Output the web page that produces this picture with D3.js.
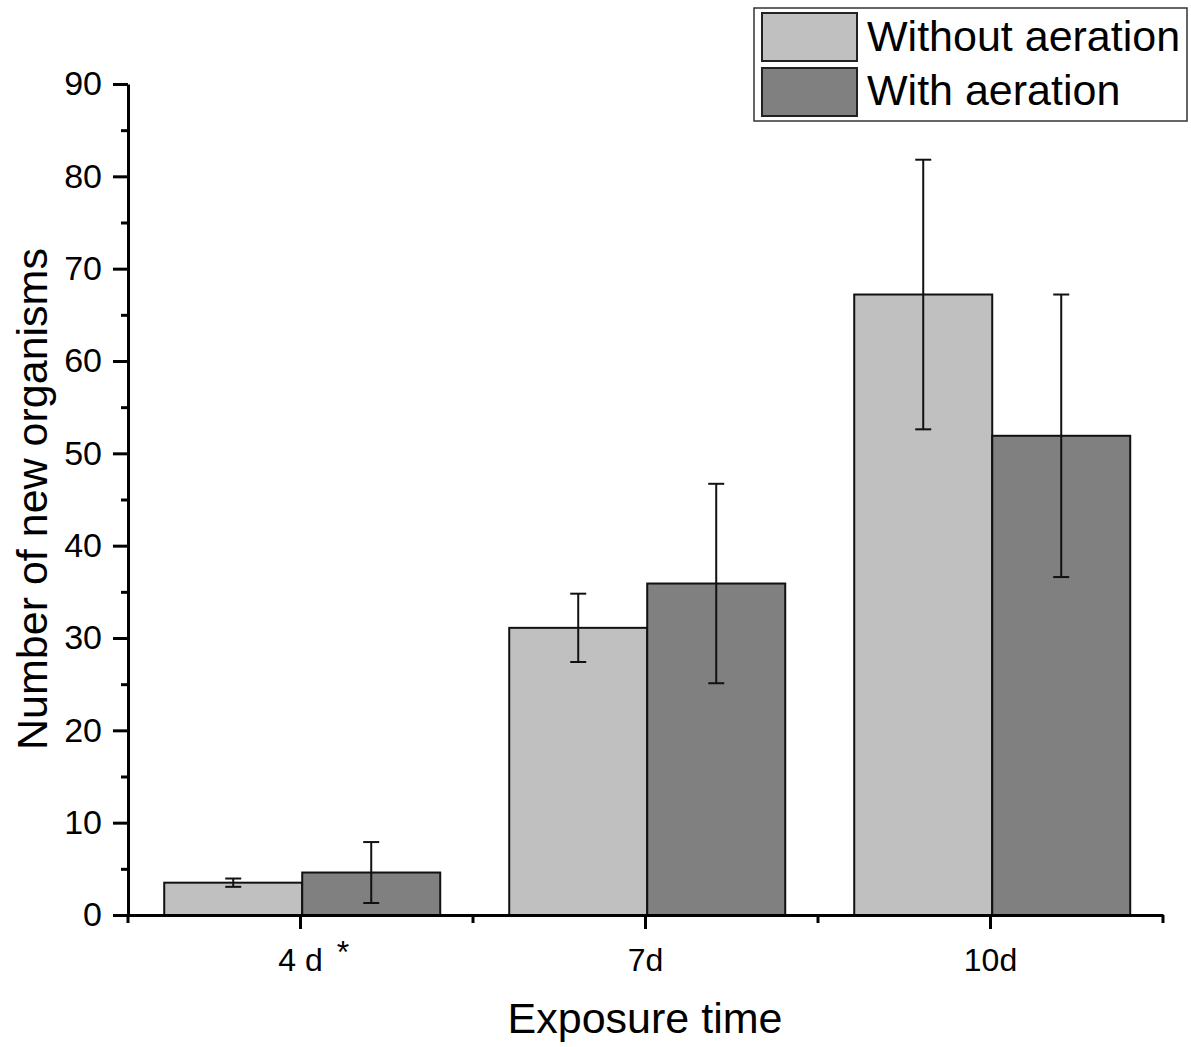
<!DOCTYPE html>
<html>
<head>
<meta charset="utf-8">
<script src="https://cdn.jsdelivr.net/npm/d3@7"></script>
<style>
  html, body { margin: 0; padding: 0; background: #fff; }
  text { font-family: "Liberation Sans", Arial, sans-serif; fill: #000; }
</style>
</head>
<body>
<svg id="chart" width="1191" height="1047"></svg>
<script>
// ---- data ----
const categories = ["4 d", "7d", "10d"];
const categoryMarks = ["*", "", ""];
const seriesNames = ["Without aeration", "With aeration"];
const withoutAeration = [3.5, 31.1, 67.2];
const withoutAerationErr = [0.45, 3.7, 14.6];
const withAeration = [4.6, 35.9, 51.9];
const withAerationErr = [3.3, 10.8, 15.3];
const seriesColors = ["#c0c0c0", "#808080"];
const yTicks = [0, 10, 20, 30, 40, 50, 60, 70, 80, 90];
const yMinorTicks = [5, 15, 25, 35, 45, 55, 65, 75, 85];

const series = [
  { name: seriesNames[0], values: withoutAeration, errs: withoutAerationErr, color: seriesColors[0] },
  { name: seriesNames[1], values: withAeration, errs: withAerationErr, color: seriesColors[1] }
];

const svg = d3.select("#chart");
const X0 = 128, X1 = 1163, Y0 = 915, Y1 = 84;

const x = d3.scaleBand().domain(categories).range([X0, X1]).padding(0);
const xs = d3.scaleBand().domain(seriesNames).range([0.105 * x.bandwidth(), 0.905 * x.bandwidth()]).padding(0);
const y = d3.scaleLinear().domain([0, 90]).range([Y0, Y1]);

// bars
const groups = svg.append("g").selectAll("g").data(categories).join("g")
  .attr("transform", d => `translate(${x(d)},0)`);

series.forEach((s) => {
  groups.append("rect")
    .attr("x", (d) => xs(s.name))
    .attr("y", (d, i) => y(s.values[i]))
    .attr("width", xs.bandwidth())
    .attr("height", (d, i) => y(0) - y(s.values[i]))
    .attr("fill", s.color)
    .attr("stroke", "#111")
    .attr("stroke-width", 2);
});

// error bars
series.forEach((s) => {
  const cx = (i) => xs(s.name) + xs.bandwidth() / 2;
  const eb = groups.append("g").attr("stroke", "#111").attr("stroke-width", 2);
  eb.append("line")
    .attr("x1", (d, i) => cx(i)).attr("x2", (d, i) => cx(i))
    .attr("y1", (d, i) => y(s.values[i] + s.errs[i]))
    .attr("y2", (d, i) => y(s.values[i] - s.errs[i]));
  eb.append("line")
    .attr("x1", (d, i) => cx(i) - 8).attr("x2", (d, i) => cx(i) + 8)
    .attr("y1", (d, i) => y(s.values[i] + s.errs[i]))
    .attr("y2", (d, i) => y(s.values[i] + s.errs[i]));
  eb.append("line")
    .attr("x1", (d, i) => cx(i) - 8).attr("x2", (d, i) => cx(i) + 8)
    .attr("y1", (d, i) => y(s.values[i] - s.errs[i]))
    .attr("y2", (d, i) => y(s.values[i] - s.errs[i]));
});

// y axis
const yAxis = svg.append("g").attr("transform", `translate(${X0},0)`)
  .call(d3.axisLeft(y).tickValues(yTicks).tickSize(15).tickSizeOuter(0).tickPadding(11));
yAxis.selectAll("text").style("font-size", "34px");
yAxis.select(".domain").attr("stroke-width", 3).attr("stroke", "#000");
yAxis.selectAll(".tick line").attr("stroke-width", 3).attr("stroke", "#000");
svg.append("g").attr("transform", `translate(${X0},0)`)
  .call(d3.axisLeft(y).tickValues(yMinorTicks).tickSize(7).tickSizeOuter(0).tickFormat(""))
  .call(g => g.select(".domain").remove())
  .selectAll(".tick line").attr("stroke-width", 3).attr("stroke", "#000");

// x axis
const xAxis = svg.append("g").attr("transform", `translate(0,${Y0})`)
  .call(d3.axisBottom(x).tickSize(14).tickSizeOuter(0).tickPadding(12));
xAxis.select(".domain").attr("stroke-width", 3).attr("stroke", "#000");
xAxis.selectAll(".tick line").attr("stroke-width", 3).attr("stroke", "#000");
xAxis.selectAll(".tick text").style("font-size", "32px").attr("dy", "0.95em");
const xBounds = categories.map(c => x(c)).concat([X1]);
svg.append("g").attr("transform", `translate(0,${Y0})`)
  .selectAll("line").data(xBounds).join("line")
  .attr("x1", d => d).attr("x2", d => d).attr("y1", 0).attr("y2", 8)
  .attr("stroke", "#000").attr("stroke-width", 3);

// asterisk marks
xAxis.selectAll(".tick").each(function(d, i) {
  if (!categoryMarks[i]) return;
  const t = d3.select(this).select("text");
  const w = t.node().getComputedTextLength();
  d3.select(this).append("text")
    .attr("x", w / 2 + 14)
    .attr("y", 48)
    .style("font-size", "32px")
    .attr("text-anchor", "start")
    .text(categoryMarks[i]);
});

// axis titles
svg.append("text")
  .attr("x", 645).attr("y", 1033)
  .attr("text-anchor", "middle")
  .style("font-size", "43px")
  .text("Exposure time");
svg.append("text")
  .attr("transform", "translate(47,499) rotate(-90)")
  .attr("text-anchor", "middle")
  .style("font-size", "43px")
  .text("Number of new organisms");

// legend
const lg = svg.append("g");
lg.append("rect").attr("x", 754).attr("y", 8).attr("width", 433).attr("height", 113)
  .attr("fill", "#fff").attr("stroke", "#333").attr("stroke-width", 1.5);
series.forEach((s, i) => {
  lg.append("rect").attr("x", 762).attr("y", 13 + i * 55).attr("width", 95).attr("height", 48)
    .attr("fill", s.color).attr("stroke", "#222").attr("stroke-width", 2);
  lg.append("text").attr("x", 867).attr("y", 51 + i * 54)
    .style("font-size", "43px").text(s.name);
});
</script>
</body>
</html>
